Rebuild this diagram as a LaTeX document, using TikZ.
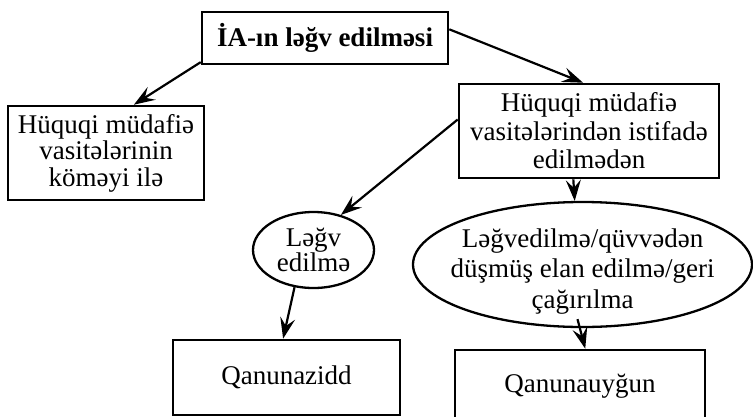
\documentclass[tikz,border=0pt]{standalone}
\usepackage{fontspec}
\setmainfont{Liberation Serif}
\usetikzlibrary{shapes.geometric, arrows.meta}

\begin{document}
\begin{tikzpicture}[x=1pt, y=-1pt,
  every node/.style={font=\fontsize{27}{28.5}\selectfont, align=center, inner sep=0pt},
  box/.style={draw, line width=2.6pt},
  oval/.style={draw, ellipse, line width=2.3pt},
  link/.style={-{Stealth[length=21pt, width=15pt, inset=8pt]}, line width=2.2pt}]
  \useasboundingbox (0,0) rectangle (753,416);
  % boxes
  \node[box, minimum width=246pt, minimum height=52pt,
    font=\fontsize{27}{28.5}\selectfont\bfseries] (title) at (325,38) {İA-ın ləğv edilməsi};
  \node[box, minimum width=196pt, minimum height=94pt,
    font=\fontsize{27}{26.5}\selectfont] (withhelp) at (106,153)
    {Hüquqi müdafiə\\vasitələrinin\\köməyi ilə};
  \node[box, minimum width=260pt, minimum height=94pt] (nohelp) at (589,131)
    {Hüquqi müdafiə\\vasitələrindən istifadə\\edilmədən};
  \node[box, minimum width=227pt, minimum height=75pt] (illegal) at (286.5,377.5) {Qanunazidd};
  \node[box, minimum width=250pt, minimum height=72pt] (legal) at (580,386) {Qanunauyğun};
  % ovals
  \node[oval, minimum width=121pt, minimum height=76pt,
    label={[name=annultext, font=\fontsize{27}{25}\selectfont]center:{Ləğv\\edilmə}}]
    (annul) at (313.5,250) {};
  \node[oval, minimum width=339pt, minimum height=125pt,
    label={[name=revoketext, yshift=-7pt, font=\fontsize{27}{30.5}\selectfont]center:{Ləğvedilmə/qüvvədən\\düşmüş elan edilmə/geri\\çağırılma}}]
    (revoke) at (582.5,264.5) {};
  % arrows
  \draw[link] (title.191) -- (withhelp.60);
  \draw[link] (title.4) -- (nohelp.97);
  \draw[link] (nohelp.175) -- (annul.52);
  \draw[link] (nohelp.252) -- (revoke.97);
  \draw[link] (annul.243) -- (illegal.95);
  \draw[link] ([xshift=-5pt, yshift=9pt]revoke.south) -- (legal.82);
\end{tikzpicture}
\end{document}
